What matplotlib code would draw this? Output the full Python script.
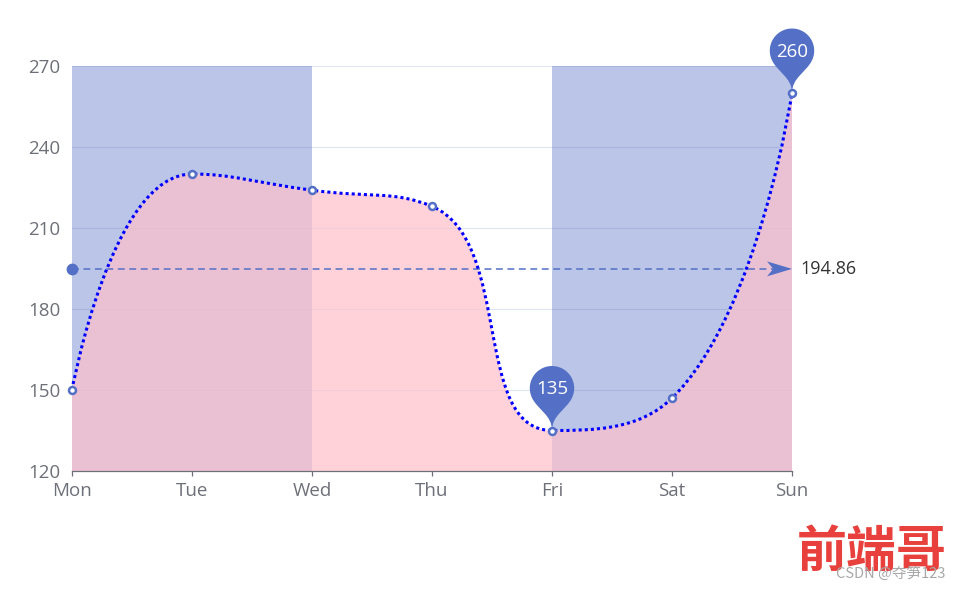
import numpy as np
import matplotlib
matplotlib.use('Agg')
import matplotlib.pyplot as plt
from matplotlib.path import Path
from matplotlib.patches import PathPatch, Polygon
from matplotlib.transforms import IdentityTransform

# ---- data ----
days = ['Mon', 'Tue', 'Wed', 'Thu', 'Fri', 'Sat', 'Sun']
values = [150, 230, 224, 218, 135, 147, 260]
y_ticks = [120, 150, 180, 210, 240, 270]
mark_areas = [('Mon', 'Wed'), ('Fri', 'Sun')]
avg_value = round(sum(values) / len(values), 2)

plt.rcParams['font.family'] = ['Open Sans', 'Noto Sans CJK SC', 'DejaVu Sans']

W, H = 963, 590
fig = plt.figure(figsize=(W / 100, H / 100), dpi=100)
L, R, T, B = 72, 792, 66, 471
ax = fig.add_axes([L / W, (H - B) / H, (R - L) / W, (B - T) / H])
ax.set_xlim(0, len(days) - 1)
ax.set_ylim(y_ticks[0], y_ticks[-1])

axis_col = '#6E7079'
main_col = '#5470c6'

# grid
for yt in y_ticks[1:]:
    ax.axhline(yt, color='#E0E6F1', lw=0.8, zorder=0.5)

# mark areas
for a, b in mark_areas:
    ax.axvspan(days.index(a), days.index(b), color=main_col, alpha=0.4, lw=0, zorder=1)

# ---- echarts-like smooth curve (computed in pixel space) ----
xs = np.arange(len(days))
sx = (R - L) / (len(days) - 1)
sy = (B - T) / (y_ticks[-1] - y_ticks[0])
px = [x * sx for x in xs]
py = [v * sy for v in values]

def smooth_path(px, py, smooth=0.5):
    n = len(px)
    verts = [(px[0], py[0])]
    codes = [Path.MOVETO]
    cpx0, cpy0 = px[0], py[0]
    prevX, prevY = px[0], py[0]
    for i in range(1, n):
        x, y = px[i], py[i]
        if i + 1 >= n:
            cpx1, cpy1 = x, y
            ncx, ncy = x, y
        else:
            nX, nY = px[i + 1], py[i + 1]
            vx, vy = nX - prevX, nY - prevY
            lp = np.hypot(x - prevX, y - prevY)
            ln = np.hypot(nX - x, nY - y)
            ratio = ln / (ln + lp)
            ncx = x + vx * smooth * ratio
            ncy = y + vy * smooth * ratio
            ncx = max(min(ncx, max(nX, x)), min(nX, x))
            ncy = max(min(ncy, max(nY, y)), min(nY, y))
            vx, vy = ncx - x, ncy - y
            cpx1 = x - vx * lp / ln
            cpy1 = y - vy * lp / ln
            cpx1 = max(min(cpx1, max(prevX, x)), min(prevX, x))
            cpy1 = max(min(cpy1, max(prevY, y)), min(prevY, y))
            vx, vy = x - cpx1, y - cpy1
            ncx = x + vx * ln / lp
            ncy = y + vy * ln / lp
        verts += [(cpx0, cpy0), (cpx1, cpy1), (x, y)]
        codes += [Path.CURVE4] * 3
        cpx0, cpy0 = ncx, ncy
        prevX, prevY = x, y
    return verts, codes

v, c = smooth_path(px, py)
verts = [(a / sx, b / sy) for a, b in v]

# area fill
area_verts = verts + [(xs[-1], y_ticks[0]), (xs[0], y_ticks[0]), (xs[0], y_ticks[0])]
area_codes = c + [Path.LINETO, Path.LINETO, Path.CLOSEPOLY]
ax.add_patch(PathPatch(Path(area_verts, area_codes), facecolor='pink', alpha=0.7,
                       edgecolor='none', zorder=2))

# mark line (average)
ax.plot([xs[0], xs[-1]], [avg_value, avg_value], color=main_col, lw=1.1,
        linestyle=(0, (4.5, 3)), zorder=3, clip_on=False)
ax.plot([xs[0]], [avg_value], 'o', ms=8.5, color=main_col, mec='none', zorder=3.5, clip_on=False)
X, Y = ax.transData.transform((xs[-1], avg_value))
La, hw = 25, 7.5
ax.add_patch(Polygon([(X, Y), (X - La, Y + hw), (X - 0.75 * La, Y), (X - La, Y - hw)],
                     closed=True, facecolor=main_col, edgecolor='none',
                     transform=IdentityTransform(), zorder=3.5, clip_on=False))
ax.annotate(f'{avg_value:.2f}', xy=(xs[-1], avg_value), xytext=(8, 0), textcoords='offset pixels',
            ha='left', va='center', fontsize=13, color='#333333', annotation_clip=False)

# series line
ax.add_patch(PathPatch(Path(verts, c), facecolor='none', edgecolor='blue', lw=2.2,
                       linestyle=(0, (1, 1)), zorder=4, clip_on=False))
ax.plot(xs, values, 'o', ms=5, mfc='white', mec=main_col, mew=1.8, zorder=5, clip_on=False)

# mark points (pins)
def pin(tx, ty, S=74):
    w = S * 0.6
    h = S
    r = w / 2
    dy = r * r / (h - r)
    cy = ty + (h - r - dy)
    a = np.arcsin(dy / r)
    dx = np.cos(a) * r
    tanX, tanY = np.sin(a), np.cos(a)
    cp1, cp2 = r * 0.6, r * 0.7
    th = np.linspace(np.pi + a, -a, 80)
    vv = [(tx + r * np.cos(t), cy + r * np.sin(t)) for t in th]
    cc = [Path.MOVETO] + [Path.LINETO] * (len(vv) - 1)
    vv += [(tx + dx - tanX * cp1, cy - dy - tanY * cp1), (tx, ty + cp2), (tx, ty)]
    cc += [Path.CURVE4] * 3
    vv += [(tx, ty + cp2), (tx - dx + tanX * cp1, cy - dy - tanY * cp1), (tx - dx, cy - dy)]
    cc += [Path.CURVE4] * 3
    vv += [(tx, ty)]
    cc += [Path.CLOSEPOLY]
    return Path(vv, cc), cy - ty

imax = int(np.argmax(values))
imin = int(np.argmin(values))
for i in (imin, imax):
    tx, ty = ax.transData.transform((xs[i], values[i]))
    p, off = pin(tx, ty)
    ax.add_patch(PathPatch(p, facecolor=main_col, edgecolor='none', transform=IdentityTransform(),
                           zorder=6, clip_on=False))
    ax.annotate(str(values[i]), xy=(xs[i], values[i]), xytext=(0, off - 1), textcoords='offset pixels',
                ha='center', va='center', fontsize=13.5, color='white', zorder=7,
                annotation_clip=False)

# axes styling
for s in ['top', 'right', 'left']:
    ax.spines[s].set_visible(False)
ax.spines['bottom'].set_color(axis_col)
ax.spines['bottom'].set_linewidth(0.9)
ax.spines['bottom'].set_zorder(4.5)
ax.set_xticks(xs)
ax.set_xticklabels(days)
ax.set_yticks(y_ticks)
ax.tick_params(axis='x', length=3.6, width=0.9, color=axis_col, labelcolor=axis_col,
               labelsize=13.5, pad=4.5)
ax.tick_params(axis='y', length=0, labelcolor=axis_col, labelsize=13.5, pad=8.5)

# watermark
fig.text(872 / W, 1 - 552 / H, '前端哥', fontsize=36, color='#e8403c', fontweight='bold',
         ha='center', va='center', family=['Noto Sans CJK SC'])
fig.text(836 / W, 1 - 574 / H, 'CSDN @夺笋123', fontsize=10.5, color='#a8a8a8',
         ha='left', va='center', family=['Noto Sans CJK SC', 'DejaVu Sans'])

fig.savefig('out.png', dpi=100)
